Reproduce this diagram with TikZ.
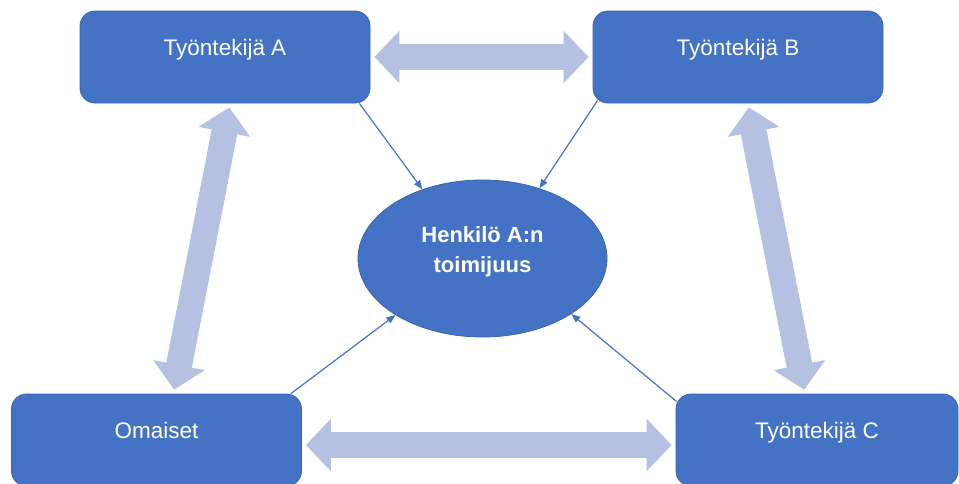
\documentclass[tikz,border=0pt]{standalone}
\usepackage{fontspec}
\setmainfont{Liberation Sans}
\usetikzlibrary{arrows.meta,shapes.geometric}
\definecolor{boxblue}{HTML}{4472C4}
\definecolor{boxline}{HTML}{3A64AE}
\definecolor{paleblue}{HTML}{B4C1E0}

\begin{document}
\begin{tikzpicture}[x=1pt,y=-1pt,
	toimija/.style={draw=boxline, line width=0.8pt, fill=boxblue, rounded corners=15pt,
		minimum width=290pt, minimum height=92pt, inner sep=0pt, text=white,
		font=\fontsize{22.5pt}{26pt}\selectfont, text height=16pt, text depth=20pt},
	keskus/.style={ellipse, draw=boxline, line width=0.8pt, fill=boxblue,
		minimum width=249pt, minimum height=157pt, inner sep=0pt, text=white, align=center,
		font=\fontsize{22pt}{30pt}\selectfont\bfseries, text height=46pt, text depth=19pt},
	isonuoli/.style={draw=paleblue, line width=26pt,
		{Triangle[width=51pt,length=25pt]}-{Triangle[width=51pt,length=25pt]},
		shorten <=4pt, shorten >=4pt},
	ohutnuoli/.style={draw=boxblue, line width=1.2pt, -{Triangle[width=7pt,length=9pt]}}]
	\useasboundingbox (0,0) rectangle (959,483);
	% laatikot
	\node[toimija] (tyoA) at (225,57) {Työntekijä A};
	\node[toimija] (tyoB) at (738,57) {Työntekijä B};
	\node[toimija] (omaiset) at (156.5,440) {Omaiset};
	\node[toimija, minimum width=282pt] (tyoC) at (817,440) {Työntekijä C};
	\node[keskus] (henk) at (482.5,258.5) {Henkilö A:n\\toimijuus};
	% leveat nuolet
	\draw[isonuoli] (tyoA.east) -- (tyoB.west);
	\draw[isonuoli] ([yshift=-5pt]omaiset.east) -- ([yshift=-5pt]tyoC.west);
	\draw[isonuoli] ([xshift=5pt]tyoA.south) -- ([xshift=17pt]omaiset.north);
	\draw[isonuoli] ([xshift=10pt]tyoB.south) -- ([xshift=-12pt]tyoC.north);
	% ohuet nuolet
	\draw[ohutnuoli] ([xshift=-11pt]tyoA.south east) -- (henk.131);
	\draw[ohutnuoli] ([xshift=5pt,yshift=3pt]tyoB.south west) -- (henk.51);
	\draw[ohutnuoli] ([xshift=-11pt]omaiset.north east) -- (henk.213);
	\draw[ohutnuoli] ([xshift=1pt,yshift=-8pt]tyoC.north west) -- (henk.328);
\end{tikzpicture}
\end{document}
